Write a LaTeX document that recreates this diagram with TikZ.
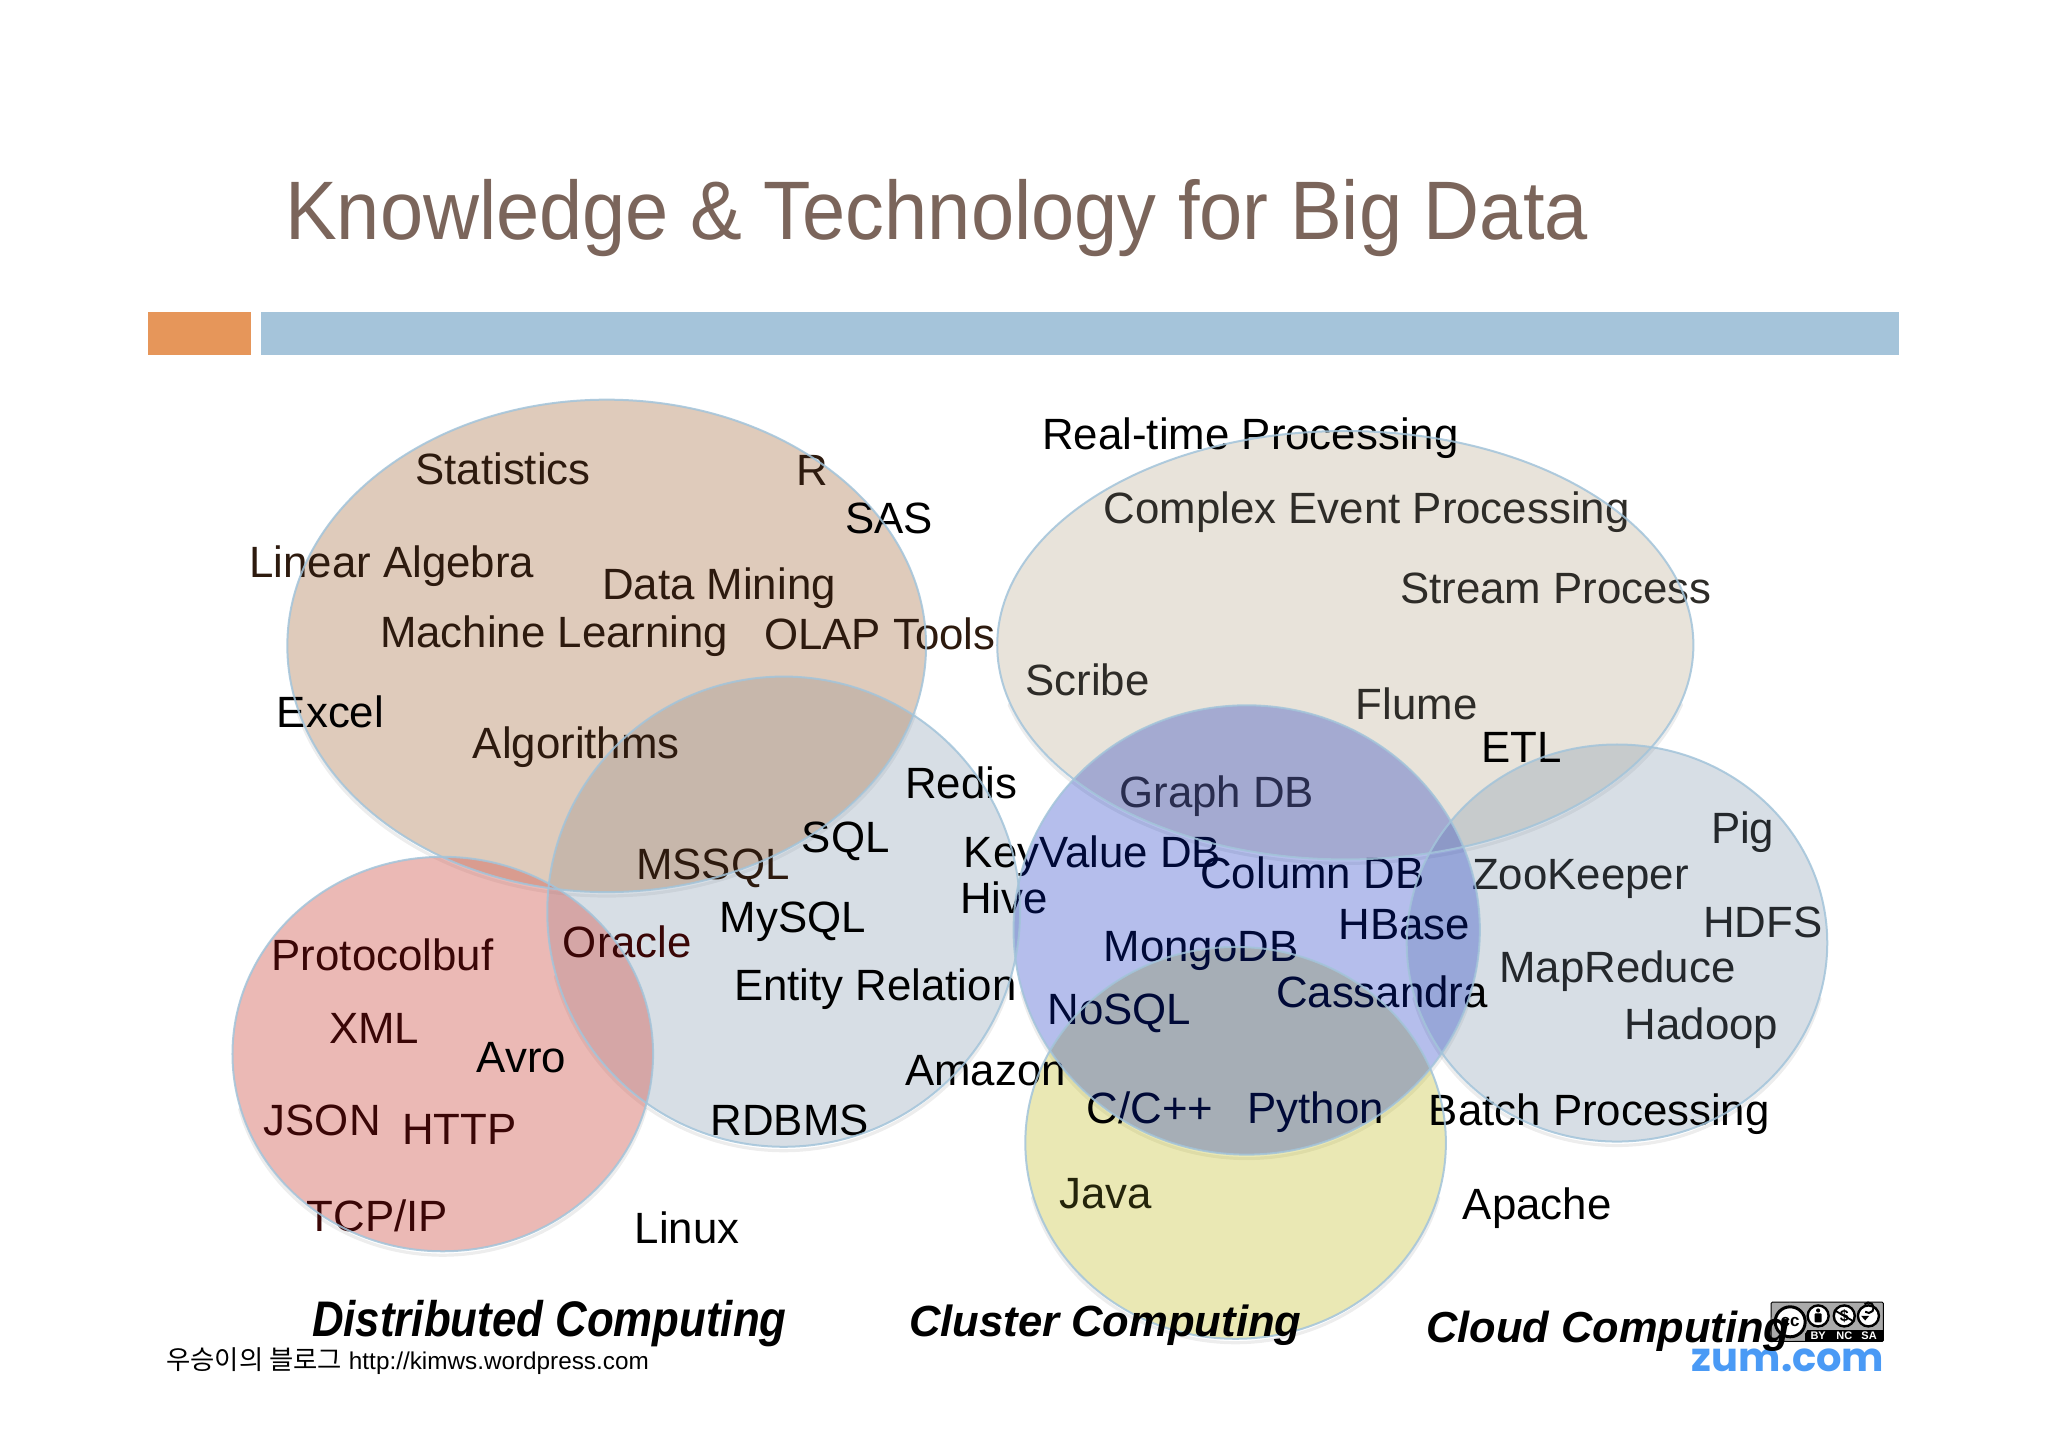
\documentclass[tikz,border=0pt]{standalone}
\usepackage{fontspec}
\setmainfont{Liberation Sans}
\newfontfamily\krfont{Noto Sans CJK KR}
\newfontfamily\zumfont{Poppins}[UprightFont=* Bold]
\definecolor{titlec}{HTML}{7B655B}
\definecolor{barorange}{HTML}{E6965A}
\definecolor{barblue}{HTML}{A5C4DA}
\definecolor{edgec}{HTML}{A3C4DA}
\definecolor{vbrown}{HTML}{B17D55}
\definecolor{vbeige}{HTML}{8C7346}
\definecolor{vblue}{RGB}{0,34,190}
\definecolor{vyellow}{HTML}{BCB608}
\definecolor{vgray}{HTML}{7D94AC}
\definecolor{vred}{HTML}{D3645B}
\definecolor{zumc}{HTML}{4A9AF5}
\definecolor{ccgray}{HTML}{AAAAAA}
\definecolor{tbrown}{HTML}{2D1A0E}
\definecolor{tred}{HTML}{3A0606}
\definecolor{tbeige}{HTML}{2E2C28}
\definecolor{tgray}{HTML}{24282C}
\definecolor{tyellow}{HTML}{24240A}
\definecolor{tgraphdb}{HTML}{3B3223}
\tikzset{
 lbl/.style={anchor=base west,inner sep=0pt,outer sep=0pt,font=\fontsize{21.9}{24}\selectfont,text=black},
 lblbrown/.style={lbl,text=tbrown},
 lblred/.style={lbl,text=tred},
 lblbeige/.style={lbl,text=tbeige},
 lblgray/.style={lbl,text=tgray},
 big/.style={anchor=base west,inner sep=0pt,outer sep=0pt,font=\fontsize{21.8}{24}\selectfont\bfseries\itshape,text=black},
 vennfill/.style={fill opacity=#1,draw=none},
 vennedge/.style={draw=edgec,line width=1pt,draw opacity=.85},
 vshadow/.style={draw=black,line width=1.6pt,draw opacity=.07,line cap=round},
 icon/.style={circle,draw=black,line width=1.2pt,fill=white,inner sep=0pt,minimum size=10.5pt},
 bandtxt/.style={inner sep=0pt,font=\fontsize{5.5}{6}\selectfont\bfseries,text=white,anchor=base}
}
\newcommand{\softshadow}[4]{\draw[vshadow] plot[smooth,samples=40,domain=15:165] ({#1+#3*cos(\x)},{#2+3+#4*sin(\x)});}
\begin{document}
\begin{tikzpicture}[x=.653pt,y=-.653pt]
\useasboundingbox (0,0) rectangle (1568,1108);
\fill[white] (0,0) rectangle (1568,1108);
\node[anchor=base west,inner sep=0pt,font=\fontsize{41.5}{44}\selectfont,text=titlec] (title) at (218,183) {\scalebox{.935}[1]{Knowledge \& Technology for Big Data}};
\fill[barorange] (113,239) rectangle (192,272);
\fill[barblue] (200,239) rectangle (1454,272);
% soft shadows
\softshadow{600}{698}{181}{180}
\softshadow{464.5}{494.5}{244.5}{188.5}
\softshadow{339}{807}{161}{151}
\softshadow{1030}{494}{266.5}{164}
\softshadow{946}{875}{161}{150}
\softshadow{1238}{722}{161}{152}
\softshadow{954.5}{712}{178.5}{172}
% translucent fills
\path[vennfill=.3,fill=vgray] (600,698) ellipse [x radius=181,y radius=180];
\path[vennfill=.4,fill=vbrown] (464.5,494.5) ellipse [x radius=244.5,y radius=188.5];
\path[vennfill=.45,fill=vred] (339,807) ellipse [x radius=161,y radius=151];
\path[vennfill=.2,fill=vbeige] (1030,494) ellipse [x radius=266.5,y radius=164];
\path[vennfill=.3,fill=vyellow] (946,875) ellipse [x radius=161,y radius=150];
\path[vennfill=.3,fill=vgray] (1238,722) ellipse [x radius=161,y radius=152];
% labels
\node[lblbrown] (n1) at (318,371) {Statistics};
\node[lblbrown] (n2) at (610,372) {R};
\node[lbl] (n3) at (647,408.5) {SAS};
\node[lblbrown] (n4) at (191,442) {Linear Algebra};
\node[lblbrown] (n5) at (461,459) {Data Mining};
\node[lblbrown] (n6) at (291,496) {Machine Learning};
\node[lblbrown] (n7) at (585,497) {OLAP Tools};
\node[lbl] (n8) at (212,557) {Excel};
\node[lblbrown] (n9) at (362,581) {Algorithms};
\node[lbl] (n10) at (693,611) {Redis};
\node[lbl] (n11) at (614,653) {SQL};
\node[lblbrown] (n12) at (487,673) {MSSQL};
\node[lbl] (n13) at (738,664) {KeyValue DB};
\node[lbl] (n14) at (735,699.5) {Hive};
\node[lbl] (n15) at (551,714) {MySQL};
\node[lblred] (n16) at (208,743) {Protocolbuf};
\node[lblred] (n17) at (431,733) {Oracle};
\node[lbl] (n18) at (562,766) {Entity Relation};
\node[lblred] (n19) at (252,799) {XML};
\node[lbl] (n20) at (365,821) {Avro};
\node[lbl] (n21) at (693,831) {Amazon};
\node[lbl] (n22) at (544,869.5) {RDBMS};
\node[lblred] (n23) at (202,869) {JSON};
\node[lblred] (n24) at (308,876) {HTTP};
\node[lblred] (n25) at (235,943) {TCP/IP};
\node[lbl] (n26) at (486,952) {Linux};
\node[lbl] (n27) at (798,344) {Real-time Processing};
\node[lblbeige] (n28) at (845,401) {Complex Event Processing};
\node[lblbeige] (n29) at (1072,462) {Stream Process};
\node[lblbeige] (n30) at (785,532.5) {Scribe};
\node[lblbeige] (n31) at (1038,551) {Flume};
\node[lbl] (n32) at (1134,584) {ETL};
\node[lbl,text=tgraphdb] (n33) at (857,618) {Graph DB};
\node[lblgray] (n34) at (1310,646) {Pig};
\node[lbl] (n35) at (919,680) {Column DB};
\node[lblgray] (n36) at (1127,681) {ZooKeeper};
\node[lblgray] (n37) at (1304,717.5) {HDFS};
\node[lbl] (n38) at (1025,719) {HBase};
\node[lbl] (n39) at (845,736) {MongoDB};
\node[lblgray] (n40) at (1148,752.5) {MapReduce};
\node[lbl] (n41) at (977,771) {Cassandra};
\node[lbl] (n42) at (802,784) {NoSQL};
\node[lblgray] (n43) at (1244,796) {Hadoop};
\node[lbl] (n44) at (832,860) {C/C++};
\node[lbl] (n45) at (955,860) {Python};
\node[lbl] (n46) at (1094,861.5) {Batch Processing};
\node[lbl,text=tyellow] (n47) at (811,925) {Java};
\node[lbl] (n48) at (1120,934) {Apache};
% blue ellipse over its texts, outlines over all texts
\path[vennfill=.29,fill=vblue] (954.5,712) ellipse [x radius=178.5,y radius=172];
\path[vennedge] (600,698) ellipse [x radius=181,y radius=180];
\path[vennedge] (464.5,494.5) ellipse [x radius=244.5,y radius=188.5];
\path[vennedge] (339,807) ellipse [x radius=161,y radius=151];
\path[vennedge] (1030,494) ellipse [x radius=266.5,y radius=164];
\path[vennedge] (946,875) ellipse [x radius=161,y radius=150];
\path[vennedge] (1238,722) ellipse [x radius=161,y radius=152];
\path[vennedge] (954.5,712) ellipse [x radius=178.5,y radius=172];
% cc badge
\fill[ccgray,draw=black,line width=.5pt,rounded corners=.6pt] (1356,997) rectangle (1442,1027);
\fill[black] (1382,1018.5) rectangle (1442,1027);
\fill[ccgray] (1370.6,1012) circle (14.5);
\node[icon,minimum size=15pt,line width=1.5pt,font=\fontsize{8.5}{9}\selectfont\bfseries] (cc) at (1370.6,1012) {cc};
\node[icon] (by) at (1392,1007.5) {};
\fill[black] (1392,1003.3) circle (1.6);
\fill[black,rounded corners=.5pt] (1389.3,1005.5) rectangle (1394.7,1012.5);
\node[icon,font=\fontsize{8}{8}\selectfont\bfseries] (nc) at (1412,1007.5) {\$};
\draw[black,line width=.9pt] (nc.150) -- (nc.-30);
\node[icon] (sa) at (1430.5,1007.5) {};
\draw[black,line width=1pt] (1428,1004.3) arc[start angle=130,delta angle=-270,radius=4];
\fill[black] (1425,1007.5) -- (1431,1007.5) -- (1428,1011) -- cycle;
\node[bandtxt] (tby) at (1392,1025.5) {BY};
\node[bandtxt] (tnc) at (1412,1025.5) {NC};
\node[bandtxt] (tsa) at (1431,1025.5) {SA};
\node[anchor=base east,inner sep=0pt,font=\fontsize{20}{22}\zumfont\selectfont,text=zumc] (zum) at (1443,1050) {zum.com};
% captions
\node[big,font=\fontsize{25}{28}\selectfont\bfseries\itshape] (d1) at (239,1023) {\scalebox{.876}[1]{Distributed Computing}};
\node[big] (d2) at (696,1023.5) {Cluster Computing};
\node[big,font=\fontsize{21.7}{24}\selectfont\bfseries\itshape] (d3) at (1092,1028) {Cloud Computing};
\node[anchor=base west,inner sep=0pt,font=\fontsize{12.15}{13}\selectfont] (blog) at (127,1048.5) {{\krfont\fontsize{13.2}{14}\selectfont 우승이의 블로그} http://kimws.wordpress.com};
\end{tikzpicture}
\end{document}
